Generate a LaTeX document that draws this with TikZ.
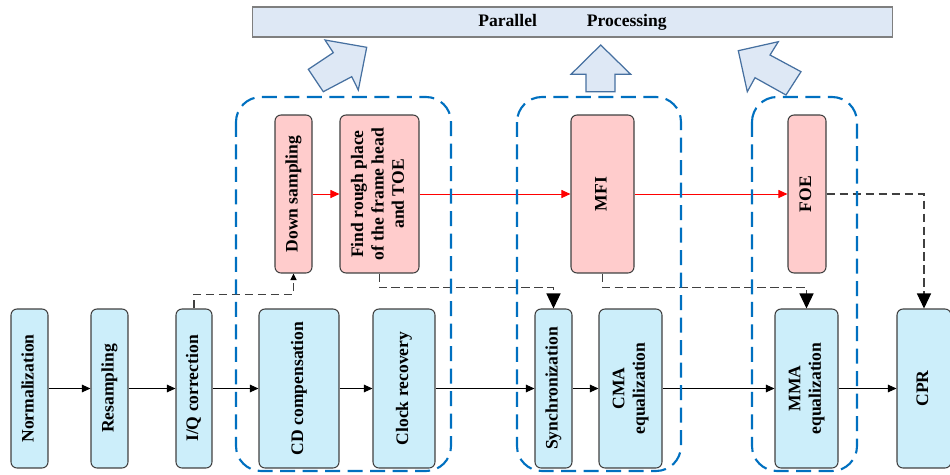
\documentclass[tikz,border=0pt]{standalone}
\usepackage{fontspec}
\setmainfont{Liberation Serif}
\usetikzlibrary{arrows.meta}
\definecolor{dspcyan}{RGB}{204,238,250}
\definecolor{dsppink}{RGB}{255,204,204}
\definecolor{dspedge}{RGB}{64,64,64}
\definecolor{grpblue}{RGB}{0,112,192}
\definecolor{barfill}{RGB}{222,232,245}
\definecolor{baredge}{RGB}{127,127,127}
\definecolor{upedge}{RGB}{70,112,160}
\newcommand{\vlabel}[1]{\rotatebox{90}{\begin{tabular}{@{}c@{}}#1\end{tabular}}}

\begin{document}
\begin{tikzpicture}[x=0.02cm, y=-0.02cm,
  font=\fontsize{10}{11.6}\selectfont\bfseries,
  blk/.style={draw=dspedge, line width=0.6pt, rounded corners=0.12cm, inner sep=0pt},
  cyanblk/.style={blk, fill=dspcyan, minimum height=3.18cm, minimum width=#1},
  pinkblk/.style={blk, fill=dsppink, minimum height=3.16cm, minimum width=#1},
  flow/.style={-{Triangle[length=1.7mm,width=1.5mm]}, line width=0.6pt},
  redflow/.style={-{Triangle[length=1.8mm,width=1.6mm]}, red, line width=0.5pt},
  hint/.style={dspedge, line width=0.7pt, dash pattern=on 0.17cm off 0.09cm},
  bigtip/.style={-{Triangle[length=3mm,width=2.8mm,black]}},
  group/.style={grpblue, line width=1.2pt, rounded corners=0.5cm, dash pattern=on 0.3cm off 0.15cm},
  uparrow/.style={fill=barfill, draw=upedge, line width=0.7pt, line join=miter}
]
\useasboundingbox (0,0) rectangle (950,474);
% Top bar
\node[draw=baredge, fill=barfill, line width=0.6pt, minimum width=12.82cm, minimum height=0.6cm, inner sep=0pt] (pp) at (572.5,22) {Parallel\hspace{1cm}Processing};
% Block arrows
\filldraw[uparrow] (366.7,47.3) -- (325,40) -- (333.3,52.7) -- (308.3,69.3) -- (323.3,91.7) -- (351.7,76.7) -- (358.3,90) -- cycle;
\filldraw[uparrow] (600.7,45) -- (630.7,74.3) -- (615,74.3) -- (615,91.7) -- (586,91.7) -- (586,74.3) -- (571,74.3) -- cycle;
\filldraw[uparrow] (738.3,50.7) -- (778.3,41.7) -- (770,55) -- (801,71.7) -- (786,95) -- (755,77.7) -- (747.3,91.7) -- cycle;
% Main chain
\node[cyanblk=0.74cm] (norm) at (29.5,388.5) {\vlabel{Normalization}};
\node[cyanblk=0.74cm] (resamp) at (109.5,388.5) {\vlabel{Resampling}};
\node[cyanblk=0.72cm] (iq) at (194,388.5) {\vlabel{I/Q correction}};
\node[cyanblk=1.6cm] (cd) at (299,388.5) {\vlabel{CD compensation}};
\node[cyanblk=1.24cm] (clock) at (404,388.5) {\vlabel{Clock recovery}};
\node[cyanblk=0.74cm] (sync) at (553.5,388.5) {\vlabel{Synchronization}};
\node[cyanblk=1.26cm] (cma) at (630.5,388.5) {\vlabel{CMA\\equalization}};
\node[cyanblk=1.26cm] (mma) at (806.5,388.5) {\vlabel{MMA\\equalization}};
\node[cyanblk=1.08cm] (cpr) at (924,388.5) {\vlabel{CPR}};
% Estimation chain
\node[pinkblk=0.74cm] (down) at (293.5,194) {\vlabel{Down sampling}};
\node[pinkblk=1.58cm] (find) at (379.5,194) {\vlabel{Find rough place\\of the frame head\\and TOE}};
\node[pinkblk=1.26cm] (mfi) at (602.5,194) {\vlabel{MFI}};
\node[pinkblk=0.76cm] (foe) at (807,194) {\vlabel{FOE}};
% Arrows
\draw[flow] (norm.east) -- (resamp.west);
\draw[flow] (resamp.east) -- (iq.west);
\draw[flow] (iq.east) -- (cd.west);
\draw[flow] (cd.east) -- (clock.west);
\draw[flow] (clock.east) -- (sync.west);
\draw[flow] (sync.east) -- (cma.west);
\draw[flow] (cma.east) -- (mma.west);
\draw[flow] (mma.east) -- (cpr.west);
\draw[redflow] (down.east) -- (find.west);
\draw[redflow] (find.east) -- (mfi.west);
\draw[redflow] (mfi.east) -- (foe.west);
% Dashed links
\draw[hint, -{Triangle[length=1.3mm,width=1.2mm,black]}] (iq.north) -- ++(0,-14) -| (down.south);
\draw[hint, bigtip] (find.south) -- ++(0,14) -| (sync.north);
\draw[hint, bigtip] (mfi.south) -- ++(0,14) -| (mma.north);
\draw[hint, bigtip] (foe.east) -| (cpr.north);
% Groups
\draw[group] (236,97) rectangle (451,471);
\draw[group] (517,97) rectangle (681,471);
\draw[group] (752,97) rectangle (857,471);
\end{tikzpicture}
\end{document}
